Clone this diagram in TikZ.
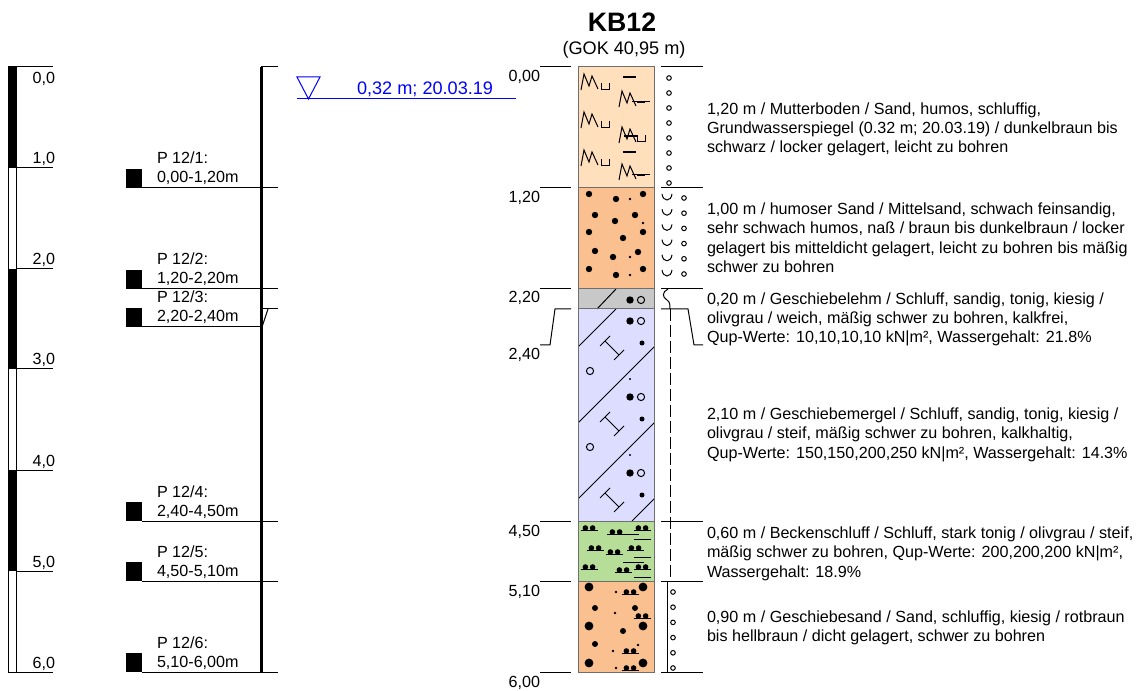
\documentclass[tikz,border=0pt]{standalone}
\usepackage{fontspec}
\setmainfont{Liberation Sans}
\definecolor{peach}{RGB}{255,223,188}
\definecolor{sand}{RGB}{250,192,143}
\definecolor{lehm}{RGB}{200,200,200}
\definecolor{mergel}{RGB}{221,221,255}
\definecolor{schluff}{RGB}{182,222,152}
\definecolor{wblue}{RGB}{0,0,255}
\definecolor{colframe}{RGB}{110,110,110}
\newcommand\txtsize{\fontsize{12.1}{14.6}\selectfont}
\newcommand\bigtxt{\fontsize{13.6}{16}\selectfont}
\begin{document}
\begin{tikzpicture}[x=0.75pt,y=-0.75pt,line width=0.75pt,
  every node/.style={inner sep=0pt,outer sep=0pt,font=\txtsize},
  deplbl/.style={anchor=base east},
  desc/.style={anchor=base west,align=left},
  samp/.style={anchor=base west},
  frame/.style={draw=colframe,line width=0.75pt},
  glyph/.style={line width=0.75pt},
  pics/mletter/.style={code={\draw[glyph] (0,16)--(3,0)--(8,12)--(11,2)--(17,15);}},
  pics/cup/.style={code={\draw[glyph] (0,0)--(0,7)--(8,7)--(8,0);}},
  pics/dd/.style={code={\fill (-3.6,0) circle (2.8) (3.6,0) circle (2.8); \draw[line width=0.8pt] (-8.5,2.6)--(8.5,2.6);}},
  pics/ibeam/.style={code={\draw[glyph] (-7,-7)--(7,7) (-12,-2)--(-2,-12) (2,12)--(12,2);}},
  pics/dotring/.style={code={\fill (0,0) circle (3.7); \draw[glyph] (11,0) circle (3.6);}},
]
\useasboundingbox (0,0) rectangle (1142,691);

% ---------- left depth scale ----------
\draw (8,67) rectangle (16,672);
\fill (8,67) rectangle (16,168);
\fill (8,269) rectangle (16,369);
\fill (8,470) rectangle (16,571);
\foreach \yy in {67,168,269,369,470,571,672} \draw (16,\yy) -- (53,\yy);
\node[deplbl] (sc0) at (55,84) {0,0};
\node[deplbl] (sc1) at (55,164) {1,0};
\node[deplbl] (sc2) at (55,265) {2,0};
\node[deplbl] (sc3) at (55,365) {3,0};
\node[deplbl] (sc4) at (55,466) {4,0};
\node[deplbl] (sc5) at (55,567) {5,0};
\node[deplbl] (sc6) at (55,668) {6,0};

% ---------- samples ----------
\draw[line width=2.25pt] (261,67) -- (261,672);
\draw (261,67) -- (278,67);
\foreach \yy/\na/\nb/\id in {188/{P 12/1:}/{0,00-1,20m}/1, 289/{P 12/2:}/{1,20-2,20m}/2, 327/{P 12/3:}/{2,20-2,40m}/3, 521/{P 12/4:}/{2,40-4,50m}/4, 581/{P 12/5:}/{4,50-5,10m}/5, 672/{P 12/6:}/{5,10-6,00m}/6}{
  \fill (126,\yy-19) rectangle (142,\yy);
  \node[samp] (pa\id) at (157,\yy-24) {\na};
  \node[samp] (pb\id) at (157,\yy-5) {\nb};
}
\foreach \yy in {188,289,521,581,672} \draw (142,\yy) -- (278,\yy);
\draw (142,327) -- (261,327);
\draw (262,327) -- (268,309);
\draw (261,309) -- (278,309);

% ---------- water level ----------
\draw[wblue] (297,77) -- (320,77) -- (308.5,99) -- cycle;
\draw[wblue] (297,99) -- (516,99);
\node[anchor=base west,text=wblue,font=\bigtxt] (gw) at (357,95) {0,32 m; 20.03.19};

% ---------- title ----------
\node[anchor=base,font=\fontsize{20}{24}\selectfont\bfseries] (title) at (622,32) {KB12};
\node[anchor=base,font=\bigtxt] (gok) at (624,55) {(GOK 40,95 m)};

% ---------- column fills ----------
\fill[peach] (578,67) rectangle (654,188);
\fill[sand] (578,188) rectangle (654,289);
\fill[lehm] (578,289) rectangle (654,309);
\fill[mergel] (578,309) rectangle (654,521);
\fill[schluff] (578,521) rectangle (654,581);
\fill[sand] (578,581) rectangle (654,672);

% layer 1: Mutterboden
\foreach \yy in {74,112,150}{
  \pic at (581,\yy) {mletter};
  \pic at (601,\yy+9) {cup};
}
\foreach \yy in {91,127,164} \pic at (619,\yy) {mletter};
\draw[glyph] (632,102) -- (650,102);
\draw[line width=2.2pt] (637,102) -- (645,102);
\draw[glyph] (632,175) -- (650,175);
\draw[line width=2.2pt] (637,175) -- (645,175);
\pic at (637,135) {cup};
\draw[line width=2pt] (624,136) -- (637,136);
\draw[line width=2.2pt] (623,77) -- (636,77);
\draw[line width=2.2pt] (623,152) -- (636,152);

% layer 2: humoser Sand
\foreach \p in {(589,194),(616,199),(643,194),(595,215),(615,221),(635,215),(589,232),(623,238),(643,232),(595,251),(613,257),(638,252),(589,269),(616,275),(643,269)}
  \fill \p circle (3.2);
\foreach \p in {(630,199),(643,223),(630,257),(630,275)}
  \fill \p circle (1.4);

% layer 3: Geschiebelehm
\draw[glyph] (597,309) -- (616,289);
\pic at (630,300) {dotring};

% layer 4: Geschiebemergel
\begin{scope}
  \clip (578,309) rectangle (654,521);
  \foreach \s in {925,1001,1077,1153} \draw[glyph] (\s-309,309) -- (\s-521,521);
\end{scope}
\foreach \yy in {321,397,473} \pic at (630,\yy) {dotring};
\foreach \yy in {348,424,500} \pic at (612,\yy) {ibeam};
\foreach \yy in {343,419,495} \fill (642,\yy) circle (2.5);
\foreach \yy in {371,447} \draw[glyph] (590,\yy) circle (3.6);
\foreach \yy in {379,455} \fill (630,\yy) circle (1.1);

% layer 5: Beckenschluff
\foreach \p in {(589,528),(616,532),(642,528),(595,548),(614,552),(635,548),(589,567),(623,570),(642,567)}
  \pic at \p {dd};
\draw (607,534.6) -- (639,534.6);
\draw (634,539) -- (651,539);
\draw (634,557) -- (651,557);
\draw (623,562) -- (644,562);
\draw (634,577) -- (651,577);

% layer 6: Geschiebesand
\foreach \p in {(589,587),(643,587),(589,626),(643,626),(589,663),(643,663)}
  \fill \p circle (4.4);
\foreach \p in {(595,608),(635,608),(623,631),(595,644)}
  \fill \p circle (3);
\foreach \p in {(616,592),(615,613),(613,651),(616,668),(638,645)}
  \fill \p circle (1.4);
\foreach \p in {(630,592),(642,616),(630,651),(630,668)}
  \pic at \p {dd};

% column frame and layer borders
\draw[frame] (578,67) rectangle (654,672);
\foreach \yy in {188,289,309,521,581} \draw[frame] (578,\yy) -- (654,\yy);

% ---------- depth ticks and labels ----------
\foreach \yy in {67,188,289,521,581,672}{
  \draw (540,\yy) -- (571,\yy);
  \draw (661,\yy) -- (703,\yy);
}
\draw (571,309) -- (555,309) -- (550,345) -- (540,345);
\draw (661,309) -- (688,309) -- (694,345) -- (703,345);
\node[deplbl] (d0) at (540,82) {0,00};
\node[deplbl] (d1) at (540,203) {1,20};
\node[deplbl] (d2) at (540,303) {2,20};
\node[deplbl] (d3) at (540,360) {2,40};
\node[deplbl] (d4) at (540,536) {4,50};
\node[deplbl] (d5) at (540,596) {5,10};
\node[deplbl] (d6) at (540,687) {6,00};

% ---------- right symbol column ----------
\foreach \yy in {78,93,108,123,138,153,168,183} \draw[glyph] (669,\yy) circle (2.3);
\foreach \i in {0,...,5}{
  \draw[glyph] (662,198-4+15.2*\i) .. controls (663,198+4+15.2*\i) and (671,198+4+15.2*\i) .. (672,198-4+15.2*\i);
  \draw[glyph] (684,198+15.2*\i) circle (2.3);
}
\draw[glyph] (668,289) .. controls (662,292) and (662,297) .. (667,300) .. controls (670,302) and (670,305) .. (670,309);
\draw[glyph,dash pattern=on 9pt off 3pt] (670,309) -- (670,581);
\draw (667,581) -- (667,672);
\foreach \i in {0,...,5} \draw[glyph] (673,592+15.2*\i) circle (2.3);

% ---------- descriptions (base = last line) ----------
\node[desc] (t1) at (707,153) {1,20 m / Mutterboden / Sand, humos, schluffig,\\Grundwasserspiegel (0.32 m; 20.03.19) / dunkelbraun bis\\schwarz / locker gelagert, leicht zu bohren};
\node[desc] (t2) at (707,272.5) {1,00 m / humoser Sand / Mittelsand, schwach feinsandig,\\sehr schwach humos, naß / braun bis dunkelbraun / locker\\gelagert bis mitteldicht gelagert, leicht zu bohren bis mäßig\\schwer zu bohren};
\node[desc] (t3) at (707,343) {0,20 m / Geschiebelehm / Schluff, sandig, tonig, kiesig /\\olivgrau / weich, mäßig schwer zu bohren, kalkfrei,\\Qup-Werte: 10,10,10,10 kN|m², Wassergehalt: 21.8\%};
\node[desc] (t4) at (707,458) {2,10 m / Geschiebemergel / Schluff, sandig, tonig, kiesig /\\olivgrau / steif, mäßig schwer zu bohren, kalkhaltig,\\Qup-Werte: 150,150,200,250 kN|m², Wassergehalt: 14.3\%};
\node[desc] (t5) at (707,577) {0,60 m / Beckenschluff / Schluff, stark tonig / olivgrau / steif,\\mäßig schwer zu bohren, Qup-Werte: 200,200,200 kN|m²,\\Wassergehalt: 18.9\%};
\node[desc] (t6) at (707,641.5) {0,90 m / Geschiebesand / Sand, schluffig, kiesig / rotbraun\\bis hellbraun / dicht gelagert, schwer zu bohren};
\end{tikzpicture}
\end{document}
